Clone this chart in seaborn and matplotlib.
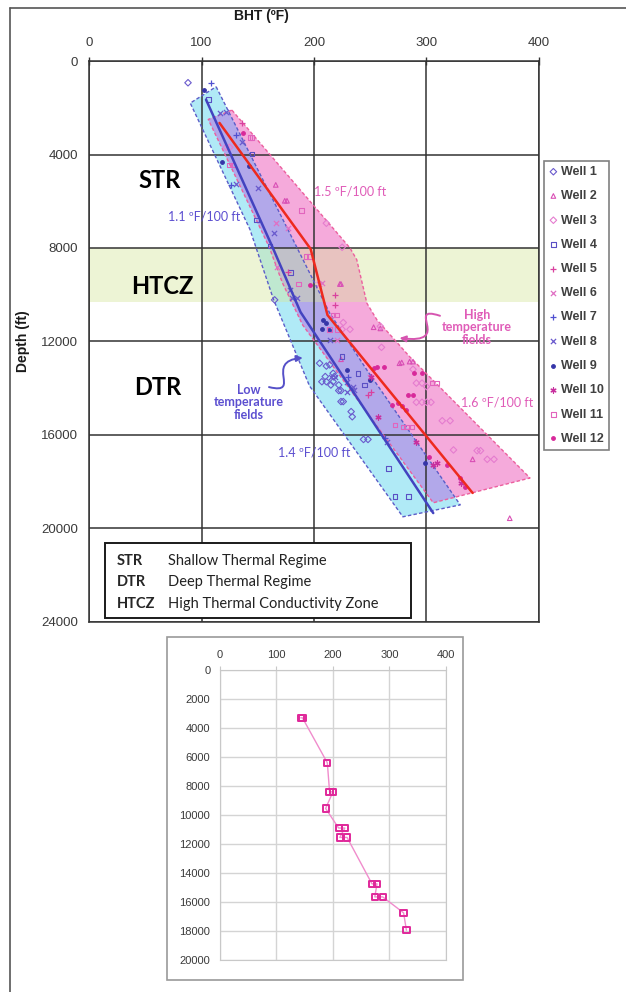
import matplotlib
matplotlib.use("Agg")
import matplotlib.pyplot as plt
import seaborn as sns
from matplotlib.patches import Rectangle, FancyArrowPatch
from matplotlib.path import Path
from matplotlib.lines import Line2D

# ---- values (BHT in deg F, depth in ft) ----
wells = ["Well 1", "Well 2", "Well 3", "Well 4", "Well 5", "Well 6",
         "Well 7", "Well 8", "Well 9", "Well 10", "Well 11", "Well 12"]

w1_bht = [88, 165, 205, 211, 214, 210, 218, 207, 211, 217, 217, 222, 224, 226, 224, 233, 234, 244, 248, 222, 215]
w1_depth = [930, 10220, 12930, 13050, 13000, 13500, 13500, 13720, 13720, 13720, 13360, 14100, 14100, 14570, 14570, 15000, 15220, 16190, 16190, 13860, 13860]
w2_bht = [166, 174, 176, 223, 224, 253, 259, 276, 278, 285, 288, 224, 341, 374]
w2_depth = [5300, 5980, 5980, 9540, 9540, 11390, 11440, 12930, 12900, 12860, 12860, 12760, 17040, 19560]
w3_bht = [122, 125, 211, 225, 226, 259, 260, 288, 291, 296, 300, 291, 296, 314, 324, 345, 348, 225, 232, 300, 304, 321, 354, 360]
w3_depth = [3690, 3690, 6940, 7970, 11190, 11350, 12250, 13190, 13780, 13780, 13930, 14600, 14600, 15390, 16640, 16670, 16670, 11480, 11480, 14600, 14600, 15390, 17040, 17040]
w4_bht = [106, 145, 149, 161, 179, 225, 239, 245, 266, 272, 284]
w4_depth = [1640, 3980, 6800, 7910, 9040, 12650, 13360, 13860, 17430, 18640, 18640]
w5_bht = [136, 177, 219, 219, 248, 251]
w5_depth = [2670, 9010, 10440, 10000, 14290, 14150]
w6_bht = [166, 177, 167, 204, 207, 250, 220]
w6_depth = [6910, 7160, 8830, 9540, 9480, 13500, 11940]
w7_bht = [108, 131, 126, 263, 230]
w7_depth = [930, 3170, 5300, 16140, 13500]
w8_bht = [116, 122, 136, 131, 150, 164, 179, 180, 185, 214, 215, 219, 229, 235, 236, 229, 265]
w8_depth = [2240, 2170, 3450, 5260, 5450, 7370, 9800, 10150, 10150, 11940, 13500, 13500, 13720, 13930, 14070, 14150, 16290]
w9_bht = [102, 118, 142, 208, 207, 211, 213, 229, 250, 299]
w9_depth = [1240, 4300, 4490, 11080, 11480, 11220, 11500, 13220, 13650, 17210]
w10_bht = [251, 257, 291, 306, 309, 331]
w10_depth = [13500, 15220, 16290, 17280, 17210, 18070]
w11_bht = [143, 145, 125, 128, 189, 193, 196, 186, 217, 220, 279, 282, 287, 272, 305, 309, 214, 221]
w11_depth = [3270, 3270, 4450, 4450, 6400, 8370, 8370, 9540, 10870, 10870, 15650, 15650, 15650, 15570, 13780, 13780, 11480, 11480]
w12_bht = [137, 196, 256, 262, 253, 269, 275, 278, 282, 284, 288, 289, 296, 302, 318, 330, 334]
w12_depth = [3070, 9580, 13080, 13080, 13150, 14720, 14640, 14760, 14930, 14290, 14290, 13360, 13360, 16930, 17280, 17850, 18210]

well_bht = [w1_bht, w2_bht, w3_bht, w4_bht, w5_bht, w6_bht,
            w7_bht, w8_bht, w9_bht, w10_bht, w11_bht, w12_bht]
well_depth = [w1_depth, w2_depth, w3_depth, w4_depth, w5_depth, w6_depth,
              w7_depth, w8_depth, w9_depth, w10_depth, w11_depth, w12_depth]

# trend lines
low_trend_bht = [104, 163, 188, 306]
low_trend_depth = [1650, 7950, 10740, 19340]
high_trend_bht = [116, 197, 212, 341]
high_trend_depth = [2650, 8040, 10870, 18480]

# temperature fields (outlines)
low_field_bht = [113, 184, 214, 247, 330, 279, 196, 164, 143, 90]
low_field_depth = [1100, 7900, 10790, 13220, 18990, 19500, 13900, 10200, 7200, 1800]
high_field_bht = [127, 232, 238, 247, 256, 285, 392, 306, 190, 172, 160, 106]
high_field_depth = [2100, 8000, 8500, 10360, 11080, 12650, 17840, 18900, 11300, 9500, 7940, 2500]

htcz_top, htcz_base = 8000, 10300

# small example well (lower panel)
ex_bht = [143, 146, 190, 194, 200, 187, 210, 221, 212, 225, 269, 278, 274, 288, 325, 330]
ex_depth = [3300, 3300, 6400, 8400, 8400, 9550, 10900, 10900, 11550, 11550, 14750, 14750, 15650, 15650, 16750, 17950]

# marker, colour, hollow
styles = {
    "Well 1": ("D", "#6a5acd", True),
    "Well 2": ("^", "#d94fb5", True),
    "Well 3": ("D", "#e57ccf", True),
    "Well 4": ("s", "#5a4fc4", True),
    "Well 5": ("+", "#d9419f", False),
    "Well 6": ("x", "#e070c4", False),
    "Well 7": ("+", "#5050d0", False),
    "Well 8": ("x", "#6a5acd", False),
    "Well 9": ("o", "#3535a8", False),
    "Well 10": ((6, 2, 0), "#c8309e", False),
    "Well 11": ("s", "#e264bd", True),
    "Well 12": ("o", "#d8289a", False),
}

sns.set_style("white")
plt.rcParams["font.family"] = ["Liberation Sans", "DejaVu Sans"]

fig = plt.figure(figsize=(6.26, 9.92), dpi=100)
ax = fig.add_axes([0.1422, 0.373, 0.7188, 0.5655])

# fields
pink = ax.fill(high_field_bht, high_field_depth, facecolor="#f5aadb", edgecolor="none", zorder=1)[0]
cyan = ax.fill(low_field_bht, low_field_depth, facecolor="#b0eaf6", edgecolor="none", zorder=1.1)[0]
lav = ax.fill(high_field_bht, high_field_depth, facecolor="#b2a8ea", edgecolor="none", zorder=1.2)[0]
lav.set_clip_path(cyan)
ax.axhspan(htcz_top, htcz_base, color="#d6e69c", alpha=0.42, lw=0, zorder=1.5)

ax.plot(low_field_bht + low_field_bht[:1], low_field_depth + low_field_depth[:1],
        color="#5c5cc8", lw=1.0, ls=(0, (2.5, 1.6)), zorder=2.6)
ax.plot(high_field_bht + high_field_bht[:1], high_field_depth + high_field_depth[:1],
        color="#ec5f9e", lw=1.0, ls=(0, (2.5, 1.6)), zorder=2.6)

# wells
for name, bht, depth in zip(wells, well_bht, well_depth):
    marker, color, hollow = styles[name]
    kw = dict(marker=marker, s=11, linewidth=0.8, zorder=5, label=name, ax=ax)
    if hollow:
        kw.update(facecolor="none", edgecolor=color)
    elif marker == "o":
        kw.update(color=color, edgecolor=color, s=7)
    else:
        kw.update(color=color, linewidth=0.9, s=14)
    sns.scatterplot(x=bht, y=depth, **kw)

sns.lineplot(x=low_trend_bht, y=low_trend_depth, sort=False, color="#4343c0", lw=1.8, zorder=6, ax=ax)
sns.lineplot(x=high_trend_bht, y=high_trend_depth, sort=False, color="#ee2a1e", lw=1.8, zorder=6, ax=ax)

handles, labels = ax.get_legend_handles_labels()
if ax.get_legend() is not None:
    ax.get_legend().remove()

ax.set_xlim(0, 400)
ax.set_ylim(24000, 0)
ax.set_xticks([0, 100, 200, 300, 400])
ax.set_yticks(range(0, 24001, 4000))
ax.xaxis.tick_top()
ax.grid(True, color="#333333", lw=1.1)
ax.set_axisbelow(False)
for sp in ax.spines.values():
    sp.set_color("#333333")
    sp.set_linewidth(1.1)
ax.tick_params(axis="both", direction="inout", length=6, width=1, color="#333333",
               labelcolor="#3a3a3a", labelsize=9.5)
ax.tick_params(axis="x", pad=6)
ax.tick_params(axis="y", pad=5)
ax.set_xlabel("")
ax.set_ylabel("Depth (ft)", fontsize=10, fontweight="bold", color="#1a1a1a", labelpad=8)
fig.text(261 / 626, 1 - 16 / 992, "BHT (ºF)", ha="center", va="center",
         fontsize=10, fontweight="bold", color="#1a1a1a")

# regime labels
for txt, x, y in [("STR", 63, 5100), ("HTCZ", 65, 9650), ("DTR", 61, 13950)]:
    ax.text(x, y, txt, ha="center", va="center", fontsize=17, fontweight="bold",
            family="Lato", color="black", zorder=7)

blue_txt = "#5c4fd0"
pink_txt = "#e05cb8"
ax.text(102, 6670, "1.1 ºF/100 ft", color=blue_txt, fontsize=9, family="Lato", ha="center", va="center", zorder=7)
ax.text(232, 5600, "1.5 ºF/100 ft", color=pink_txt, fontsize=9, family="Lato", ha="center", va="center", zorder=7)
ax.text(363, 14630, "1.6 ºF/100 ft", color=pink_txt, fontsize=9, family="Lato", ha="center", va="center", zorder=7)
ax.text(200, 16730, "1.4 ºF/100 ft", color=blue_txt, fontsize=9, family="Lato", ha="center", va="center", zorder=7)
ax.text(345, 11380, "High\ntemperature\nfields", color=pink_txt, fontsize=9, fontweight="bold",
        family="Lato", ha="center", va="center", linespacing=1.05, zorder=7)
ax.text(142, 14590, "Low\ntemperature\nfields", color=blue_txt, fontsize=9, fontweight="bold",
        family="Lato", ha="center", va="center", linespacing=1.05, zorder=7)

# squiggle arrows
hi_path = Path([(312, 10900), (280, 10400), (325, 12150), (276, 11850)],
               [Path.MOVETO, Path.CURVE4, Path.CURVE4, Path.CURVE4])
lo_path = Path([(160, 13950), (190, 14300), (155, 12850), (190, 12700)],
               [Path.MOVETO, Path.CURVE4, Path.CURVE4, Path.CURVE4])
ax.add_patch(FancyArrowPatch(path=hi_path, arrowstyle="-|>", mutation_scale=9,
                             color="#d655b0", lw=1.4, zorder=7))
ax.add_patch(FancyArrowPatch(path=lo_path, arrowstyle="-|>", mutation_scale=9,
                             color="#5550c8", lw=1.4, zorder=7))

# abbreviation box
ax.add_patch(Rectangle((0.036, 0.007), 0.68, 0.134, transform=ax.transAxes,
                       facecolor="white", edgecolor="#1a1a1a", lw=1.4, zorder=8))
rows = [("STR", "Shallow Thermal Regime"), ("DTR", "Deep Thermal Regime"),
        ("HTCZ", "High Thermal Conductivity Zone")]
for i, (ab, desc) in enumerate(rows):
    yy = 0.1087 - i * 0.0383
    ax.text(0.062, yy, ab, transform=ax.transAxes, fontsize=10.5, fontweight="bold",
            family="Lato", va="center", zorder=9)
    ax.text(0.1756, yy, desc, transform=ax.transAxes, fontsize=10.5,
            family="Lato", va="center", color="#222222", zorder=9)

# legend
fig.legend(handles, labels, loc="upper left", bbox_to_anchor=(544 / 626, 1 - 161 / 992),
           frameon=True, fancybox=False, edgecolor="#808080", framealpha=1,
           prop={"size": 9, "weight": "bold"}, labelcolor="#404040",
           labelspacing=0.98, handlelength=0.7, handletextpad=0.25, borderpad=0.4,
           borderaxespad=0)
leg = fig.legends[0]
leg.get_frame().set_linewidth(1.2)

# lower panel
fig.add_artist(Rectangle((167 / 626, 1 - 980 / 992), 296 / 626, 343 / 992,
                         transform=fig.transFigure, facecolor="none",
                         edgecolor="#9a9a9a", lw=1.2))
ax2 = fig.add_axes([0.3514, 0.0323, 0.3610, 0.2923])
sns.lineplot(x=ex_bht, y=ex_depth, sort=False, color="#f08ccc", lw=1.0, ax=ax2, zorder=3)
sns.scatterplot(x=ex_bht, y=ex_depth, marker="s", s=20, facecolor="none",
                edgecolor="#e0289a", linewidth=1.4, ax=ax2, zorder=4)
ax2.set_xlim(0, 400)
ax2.set_ylim(20000, 0)
ax2.set_xticks([0, 100, 200, 300, 400])
ax2.set_yticks(range(0, 20001, 2000))
ax2.xaxis.tick_top()
ax2.grid(True, color="#d4d4d4", lw=1.0)
for sp in ax2.spines.values():
    sp.set_color("#c8c8c8")
ax2.tick_params(axis="both", direction="out", length=3, color="#c8c8c8",
                labelcolor="#3a3a3a", labelsize=8, pad=4)
ax2.set_xlabel("")
ax2.set_ylabel("")

# outer frame lines
fig.add_artist(Line2D([10 / 626, 10 / 626], [0, 1 - 8 / 992], transform=fig.transFigure,
                      color="#555555", lw=1.2))
fig.add_artist(Line2D([10 / 626, 1], [1 - 8 / 992, 1 - 8 / 992], transform=fig.transFigure,
                      color="#555555", lw=1.2))

fig.savefig("out.png", dpi=100)
